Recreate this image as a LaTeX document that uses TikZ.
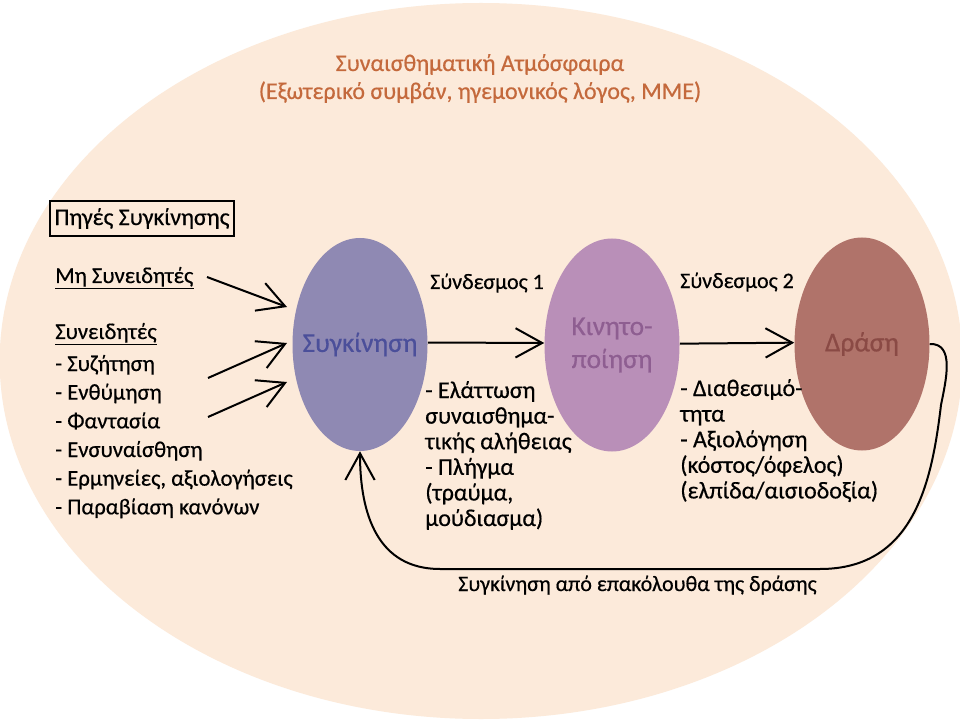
\documentclass[tikz,border=0pt]{standalone}
\usepackage{fontspec}
\setmainfont{Carlito}[FakeBold=0.5]
\usetikzlibrary{shapes.geometric,arrows.meta}
\definecolor{bgpeach}{HTML}{FCEADA}
\definecolor{sygfill}{HTML}{8F89B3}
\definecolor{sygtext}{HTML}{4B4F9A}
\definecolor{kinfill}{HTML}{B98FB8}
\definecolor{kintext}{HTML}{8E5E91}
\definecolor{drafill}{HTML}{B0736A}
\definecolor{dratext}{HTML}{8A4A45}
\definecolor{titlecol}{HTML}{C4693C}
\begin{document}
\begin{tikzpicture}[x=0.75pt,y=-0.75pt,
  body/.style={font=\fontsize{17}{21.5}\selectfont, inner sep=0pt, anchor=base west},
  small/.style={font=\fontsize{16.5}{19.2}\selectfont, inner sep=0pt, anchor=base west},
  tight/.style={font=\fontsize{18}{19.2}\selectfont, inner sep=0pt, anchor=base west},
  arr/.style={line width=1.5pt, -{Straight Barb[length=20pt,width=22pt]}},
  blob/.style={ellipse, minimum width=101.25pt, minimum height=159.75pt, inner sep=0pt},
  lab/.style={font=\fontsize{20.5}{24.75}\selectfont, align=center, inner sep=0pt},
  uline/.style={line width=1pt}]
\fill[white] (0,0) rectangle (960,720);
\useasboundingbox (0,0) rectangle (960,720);
\fill[bgpeach] (481,361) ellipse [x radius=361pt, y radius=268.5pt];

% title
\node[font=\fontsize{18}{21}\selectfont, inner sep=0pt, anchor=base, text=titlecol] (title) at (480,71)
  {\begin{tabular}[t]{@{}c@{}}Συναισθηματική Ατμόσφαιρα\\(Εξωτερικό συμβάν, ηγεμονικός λόγος, ΜΜΕ)\end{tabular}};

% main ellipses
\node[blob, fill=sygfill] (syg) at (360,344.5) {};
\node[blob, fill=kinfill] (kin) at (612,345) {};
\node[blob, fill=drafill] (dra) at (862,344) {};
\node[lab, text=sygtext] (sygl) at (syg.center) {Συγκίνηση};
\node[lab, text=kintext] (kinl) at (kin.center) {Κινητο-\\ποίηση};
\node[lab, text=dratext] (dral) at (dra.center) {Δράση};

% sources
\node[draw, line width=1pt, minimum width=138pt, minimum height=26.25pt, inner sep=0pt,
  font=\fontsize{18}{21.5}\selectfont] (src) at (142,218.5) {Πηγές Συγκίνησης};
\node[body] (mi) at (55,283) {Μη Συνειδητές};
\draw[uline] ([yshift=-1pt]mi.south west) -- ([yshift=-1pt]mi.south east);
\node[body] (syn) at (55,339) {Συνειδητές};
\draw[uline] ([yshift=-1pt]syn.south west) -- ([yshift=-1pt]syn.south east);
\node[body] (list) at (55,371) {\begin{tabular}[t]{@{}l@{}}- Συζήτηση\\- Ενθύμηση\\- Φαντασία\\- Ενσυναίσθηση\\- Ερμηνείες, αξιολογήσεις\\- Παραβίαση κανόνων\end{tabular}};

% source arrows
\coordinate (a1s) at (207,277); \coordinate (a1e) at (287,307);
\coordinate (a2s) at (208,378); \coordinate (a2e) at (287,343);
\coordinate (a3s) at (208,417); \coordinate (a3e) at (287,382);
\draw[arr] (a1s) -- (a1e);
\draw[arr] (a2s) -- (a2e);
\draw[arr] (a3s) -- (a3e);

% links
\draw[arr] ([yshift=1.5pt]syg.east) -- ([yshift=1.5pt]kin.west);
\draw[arr] ([yshift=1pt]kin.east) -- ([yshift=1pt]dra.west);
\node[small] (l1) at (430,289) {Σύνδεσμος 1};
\node[small] (l2) at (680,288) {Σύνδεσμος 2};
\node[tight] (t1) at (425,398) {\begin{tabular}[t]{@{}l@{}}- Ελάττωση\\συναισθημα-\\τικής αλήθειας\\- Πλήγμα\\(τραύμα,\\μούδιασμα)\end{tabular}};
\node[tight] (t2) at (680,396) {\begin{tabular}[t]{@{}l@{}}- Διαθεσιμό-\\τητα\\- Αξιολόγηση\\(κόστος/όφελος)\\(ελπίδα/αισιοδοξία)\end{tabular}};

% feedback
\draw[arr] (dra.east) .. controls (955,343) and (946,380) .. (941,405)
  .. controls (932,480) and (915,569) .. (820,569) -- (440,569)
  .. controls (378,569) and (360,515) .. (syg.south);
\node[small] (fb) at (458,591) {Συγκίνηση από επακόλουθα της δράσης};
\end{tikzpicture}
\end{document}
